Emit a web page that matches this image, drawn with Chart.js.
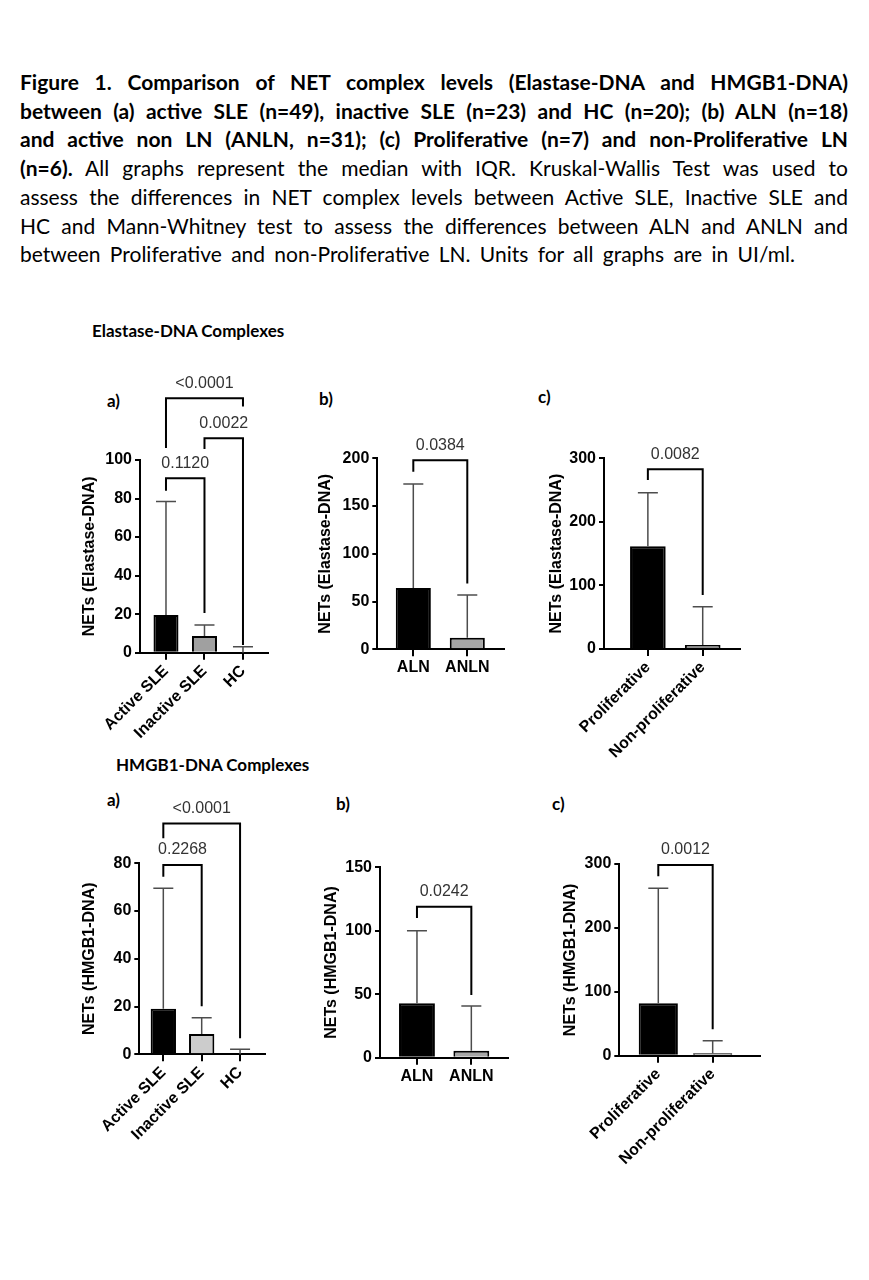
<!DOCTYPE html>
<html>
<head>
<meta charset="utf-8">
<title>Figure 1 - NET complexes</title>
<script src="https://cdn.jsdelivr.net/npm/chart.js@4.4.1/dist/chart.umd.min.js"></script>
<style>
  body { margin: 0; background: #fff; }
  #page { position: relative; width: 869px; height: 1280px; overflow: hidden; background: #fff; }
  .cap { position: absolute; left: 20px; width: 828px; font-family: Lato, sans-serif; font-size: 21px;
         line-height: 28px; text-align: justify; text-align-last: justify; color: #000; }
  .b { font-weight: bold; }
  .lbl { position: absolute; font-family: Lato, sans-serif; font-weight: bold; line-height: 20px; color: #000; }
  canvas { position: absolute; }
</style>
</head>
<body>
<div id="page">
  <div class="cap b" style="top:68px">Figure 1. Comparison of NET complex levels (Elastase-DNA and HMGB1-DNA)</div>
  <div class="cap b" style="top:96.7px">between (a) active SLE (n=49), inactive SLE (n=23) and HC (n=20); (b) ALN (n=18)</div>
  <div class="cap b" style="top:125.4px">and active non LN (ANLN, n=31); (c) Proliferative (n=7) and non-Proliferative LN</div>
  <div class="cap" style="top:154.1px"><b>(n=6).</b> All graphs represent the median with IQR. Kruskal-Wallis Test was used to</div>
  <div class="cap" style="top:182.8px">assess the differences in NET complex levels between Active SLE, Inactive SLE and</div>
  <div class="cap" style="top:211.5px">HC and Mann-Whitney test to assess the differences between ALN and ANLN and</div>
  <div class="cap" style="top:240.2px;width:775px">between Proliferative and non-Proliferative LN. Units for all graphs are in UI/ml.</div>

  <div class="lbl" style="left:92px;top:321px;font-size:17px">Elastase-DNA Complexes</div>
  <div class="lbl" style="left:116px;top:755px;font-size:17px">HMGB1-DNA Complexes</div>

  <div class="lbl" style="left:107px;top:391px;font-size:17px">a)</div>
  <div class="lbl" style="left:319px;top:389px;font-size:17px">b)</div>
  <div class="lbl" style="left:538px;top:387px;font-size:17px">c)</div>
  <div class="lbl" style="left:107px;top:790px;font-size:17px">a)</div>
  <div class="lbl" style="left:336px;top:794px;font-size:17px">b)</div>
  <div class="lbl" style="left:552px;top:794px;font-size:17px">c)</div>
</div>

<script>
// ---- Elastase-DNA complexes ----
const elaGroupsA = ['Active SLE', 'Inactive SLE', 'HC'];
const elaMedianA = [19.5, 8.7, 0];
const elaQ3A = [78.5, 14.4, 3.1];
const elaTicksA = [0, 20, 40, 60, 80, 100];
// [from, to, bracket top, left leg end, right leg end, p value]
const elaPairsA = [
  [0, 1, 90.5, 84, 20.6, '0.1120'],
  [1, 2, 111.3, 105.7, 4.0, '0.0022'],
  [0, 2, 132, 106.2, 127.7, '<0.0001']
];

const elaGroupsB = ['ALN', 'ANLN'];
const elaMedianB = [64.2, 12.2];
const elaQ3B = [173, 56.9];
const elaTicksB = [0, 50, 100, 150, 200];
const elaPairsB = [[0, 1, 198, 186, 69, '0.0384']];

const elaGroupsC = ['Proliferative', 'Non-proliferative'];
const elaMedianC = [161.5, 6.3];
const elaQ3C = [246, 66.5];
const elaTicksC = [0, 100, 200, 300];
const elaPairsC = [[0, 1, 282.8, 266, 85, '0.0082']];

// ---- HMGB1-DNA complexes ----
const hmgGroupsA = ['Active SLE', 'Inactive SLE', 'HC'];
const hmgMedianA = [19.1, 8.5, 0];
const hmgQ3A = [69.5, 15.3, 2.1];
const hmgTicksA = [0, 20, 40, 60, 80];
const hmgPairsA = [
  [0, 1, 79.3, 74.4, 20.1, '0.2268'],
  [0, 2, 96.7, 90.5, 6.7, '<0.0001']
];

const hmgGroupsB = ['ALN', 'ANLN'];
const hmgMedianB = [42.9, 5.5];
const hmgQ3B = [100, 40.7];
const hmgTicksB = [0, 50, 100, 150];
const hmgPairsB = [[0, 1, 119, 110, 49.4, '0.0242']];

const hmgGroupsC = ['Proliferative', 'Non-proliferative'];
const hmgMedianC = [82, 3.7];
const hmgQ3C = [262, 23.5];
const hmgTicksC = [0, 100, 200, 300];
const hmgPairsC = [[0, 1, 298.4, 281, 41.3, '0.0012']];

Chart.defaults.font.family = "'Liberation Sans', Arial, sans-serif";
Chart.defaults.color = '#000';

/**
 * one small GraphPad style bar panel, box = plot area on the page
 */
function makePanel(box, groups, median, q3, yTicks, pairs, colors, title) {
  const cLeft = Math.round(box.titleX - 9.6);
  const cTop = Math.round(box.top - 100);
  const cRight = Math.round(box.right + 12);
  const cBottom = Math.round(box.bottom + (box.rotate ? 110 : 45));
  const canvas = document.createElement('canvas');
  canvas.width = cRight - cLeft;
  canvas.height = cBottom - cTop;
  canvas.style.left = cLeft + 'px';
  canvas.style.top = cTop + 'px';
  document.getElementById('page').appendChild(canvas);
  const yWidth = box.left - cLeft;
  const xHeight = cBottom - box.bottom;

  // upper whisker (IQR) and significance brackets
  let extras = {
    id: 'extras',
    afterDatasetsDraw(chart) {
      const ctx = chart.ctx;
      const y = chart.scales.y;
      const bars = chart.getDatasetMeta(0).data;
      ctx.save();
      ctx.strokeStyle = '#4d4d4d';
      ctx.lineWidth = 1.5;
      for (let i = 0; i < q3.length; i++) {
        const x = bars[i].x;
        const y0 = y.getPixelForValue(median[i]);
        const y1 = y.getPixelForValue(q3[i]);
        ctx.beginPath();
        ctx.moveTo(x, y0);
        ctx.lineTo(x, y1);
        ctx.moveTo(x - 10, y1);
        ctx.lineTo(x + 10, y1);
        ctx.stroke();
      }
      ctx.strokeStyle = '#000';
      ctx.lineWidth = 2;
      ctx.fillStyle = '#333';
      ctx.font = "16px 'Liberation Sans', Arial, sans-serif";
      ctx.textAlign = 'center';
      ctx.textBaseline = 'middle';
      pairs.forEach(function(p) {
        const xa = bars[p[0]].x, xb = bars[p[1]].x;
        const yt = y.getPixelForValue(p[2]);
        ctx.beginPath();
        ctx.moveTo(xa, y.getPixelForValue(p[3]));
        ctx.lineTo(xa, yt);
        ctx.lineTo(xb, yt);
        ctx.lineTo(xb, y.getPixelForValue(p[4]));
        ctx.stroke();
        ctx.fillText(p[5], (xa + xb) / 2, yt - 15);
      });
      ctx.restore();
    }
  };

  new Chart(canvas, {
    type: 'bar',
    data: {
      datasets: [{
        data: median.map((v, i) => ({x: i, y: v})),
        backgroundColor: colors,
        borderColor: '#000',
        borderWidth: 2,
        borderSkipped: 'start',
        barPercentage: box.barPct,
        categoryPercentage: 1
      }]
    },
    options: {
      responsive: false,
      animation: false,
      layout: {padding: {left: 0, top: box.top - cTop, right: cRight - box.right, bottom: 0}},
      plugins: {legend: {display: false}, tooltip: {enabled: false}},
      scales: {
        x: {
          type: 'linear', min: box.xMin, max: box.xMax, offset: false,
          grid: {drawOnChartArea: false, offset: false, tickLength: 7, color: '#000', lineWidth: 2},
          border: {color: '#000', width: 2},
          afterBuildTicks: s => { s.ticks = groups.map((g, i) => ({value: i})); },
          afterFit: s => { s.height = xHeight; },
          ticks: {
            autoSkip: false,
            minRotation: box.rotate ? 45 : 0, maxRotation: box.rotate ? 45 : 0,
            padding: 2, font: {size: 16, weight: 'bold'},
            callback: v => groups[v]
          }
        },
        y: {
          min: 0, max: yTicks[yTicks.length - 1],
          grid: {drawOnChartArea: false, tickLength: 5, color: '#000', lineWidth: 2},
          border: {color: '#000', width: 2},
          afterBuildTicks: s => { s.ticks = yTicks.map(v => ({value: v})); },
          afterFit: s => { s.width = yWidth; },
          ticks: {padding: 3, font: {size: 16, weight: 'bold'}},
          title: {display: true, text: title, padding: 0, font: {size: 16, weight: 'bold'}}
        }
      }
    },
    plugins: [extras]
  });
}

makePanel({left: 140, right: 268, top: 460, bottom: 652.7, titleX: 90, xMin: -0.675, xMax: 2.65, rotate: true, barPct: 0.65},
  elaGroupsA, elaMedianA, elaQ3A, elaTicksA, elaPairsA, ['#000', '#a0a0a0', '#a0a0a0'], 'NETs (Elastase-DNA)');
makePanel({left: 377.3, right: 504, top: 458.3, bottom: 649.3, titleX: 326, xMin: -0.667, xMax: 1.68, rotate: false, barPct: 0.65},
  elaGroupsB, elaMedianB, elaQ3B, elaTicksB, elaPairsB, ['#000', '#a6a6a6'], 'NETs (Elastase-DNA)');
makePanel({left: 604, right: 740, top: 458.3, bottom: 649, titleX: 557, xMin: -0.8, xMax: 1.68, rotate: true, barPct: 0.65},
  elaGroupsC, elaMedianC, elaQ3C, elaTicksC, elaPairsC, ['#000', '#909090'], 'NETs (Elastase-DNA)');

makePanel({left: 139.3, right: 265, top: 863.3, bottom: 1054.3, titleX: 90, xMin: -0.626, xMax: 2.65, rotate: true, barPct: 0.66},
  hmgGroupsA, hmgMedianA, hmgQ3A, hmgTicksA, hmgPairsA, ['#000', '#cccccc', '#cccccc'], 'NETs (HMGB1-DNA)');
makePanel({left: 380, right: 508.3, top: 867.3, bottom: 1057.7, titleX: 331.7, xMin: -0.68, xMax: 1.68, rotate: false, barPct: 0.66},
  hmgGroupsB, hmgMedianB, hmgQ3B, hmgTicksB, hmgPairsB, ['#000', '#a6a6a6'], 'NETs (HMGB1-DNA)');
makePanel({left: 619.3, right: 760, top: 864, bottom: 1055.7, titleX: 571, xMin: -0.717, xMax: 1.87, rotate: true, barPct: 0.72},
  hmgGroupsC, hmgMedianC, hmgQ3C, hmgTicksC, hmgPairsC, ['#000', '#808080'], 'NETs (HMGB1-DNA)');
</script>
</body>
</html>
